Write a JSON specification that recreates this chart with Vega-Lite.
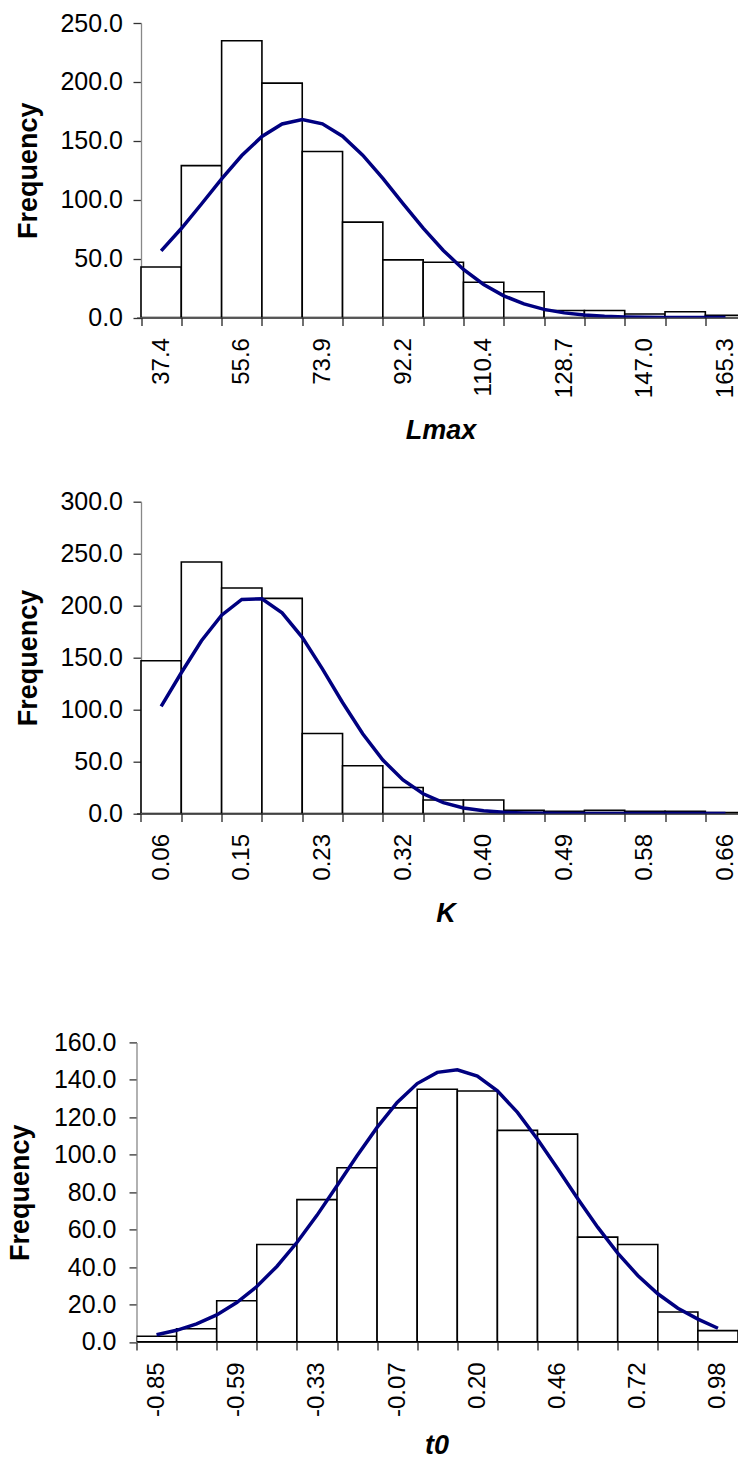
{
  "$schema": "https://vega.github.io/schema/vega-lite/v6.json",
  "usermeta": {"embedOptions": {"actions": false}},
  "padding": {"left": 6.5, "top": 11, "right": 0, "bottom": 0},
  "spacing": 45.7,
  "config": {
    "view": {"stroke": null},
    "font": "Liberation Sans",
    "axis": {
      "grid": false,
      "labelFont": "Liberation Sans",
      "labelFontSize": 24,
      "labelColor": "#000000",
      "titleFont": "Liberation Sans",
      "titleFontSize": 27,
      "titleFontWeight": "bold",
      "titleColor": "#000000",
      "labelFlush": false,
      "labelOverlap": false,
      "domainWidth": 1.3,
      "tickWidth": 1.3
    },
    "axisX": {"domainColor": "#222222", "tickColor": "#222222", "labelAngle": -90, "tickSize": 8, "labelPadding": 12, "titleBaseline": "alphabetic", "titleFontStyle": "italic"},
    "axisY": {"domainColor": "#888888", "tickColor": "#333333", "titleBaseline": "alphabetic", "format": ".1f", "labelFontSize": 25}
  },
  "datasets": {
    "lmax_bins": [
      {"x": 32.833, "x2": 41.967, "y": 43},
      {"x": 41.967, "x2": 51.101, "y": 129},
      {"x": 51.101, "x2": 60.235, "y": 235},
      {"x": 60.235, "x2": 69.369, "y": 199},
      {"x": 69.369, "x2": 78.503, "y": 141},
      {"x": 78.503, "x2": 87.637, "y": 81},
      {"x": 87.637, "x2": 96.771, "y": 49},
      {"x": 96.771, "x2": 105.905, "y": 47},
      {"x": 105.905, "x2": 115.039, "y": 30},
      {"x": 115.039, "x2": 124.173, "y": 22},
      {"x": 124.173, "x2": 133.307, "y": 6},
      {"x": 133.307, "x2": 142.441, "y": 6},
      {"x": 142.441, "x2": 151.575, "y": 3},
      {"x": 151.575, "x2": 160.709, "y": 5},
      {"x": 160.709, "x2": 169.843, "y": 2}
    ],
    "lmax_curve": [
      {"x": 37.4, "y": 56.6}, {"x": 41.967, "y": 75.6}, {"x": 46.534, "y": 96.4}, {"x": 51.101, "y": 117.7},
      {"x": 55.668, "y": 137.5}, {"x": 60.235, "y": 153.7}, {"x": 64.802, "y": 164.3}, {"x": 69.369, "y": 168.0},
      {"x": 73.936, "y": 164.4}, {"x": 78.503, "y": 153.9}, {"x": 83.07, "y": 137.8}, {"x": 87.637, "y": 118.1},
      {"x": 92.204, "y": 96.8}, {"x": 96.771, "y": 75.9}, {"x": 101.338, "y": 57.0}, {"x": 105.905, "y": 40.9},
      {"x": 110.472, "y": 28.1}, {"x": 115.039, "y": 18.5}, {"x": 119.606, "y": 11.6}, {"x": 124.173, "y": 7.0},
      {"x": 128.74, "y": 4.0}, {"x": 133.307, "y": 2.2}, {"x": 137.874, "y": 1.2}, {"x": 142.441, "y": 0.6},
      {"x": 147.008, "y": 0.3}, {"x": 151.575, "y": 0.1}, {"x": 156.142, "y": 0.05}, {"x": 160.709, "y": 0.02},
      {"x": 165.276, "y": 0.01}
    ],
    "k_bins": [
      {"x": 0.0385, "x2": 0.0815, "y": 147},
      {"x": 0.0815, "x2": 0.1245, "y": 242},
      {"x": 0.1245, "x2": 0.1675, "y": 217},
      {"x": 0.1675, "x2": 0.2105, "y": 207},
      {"x": 0.2105, "x2": 0.2535, "y": 77},
      {"x": 0.2535, "x2": 0.2965, "y": 46},
      {"x": 0.2965, "x2": 0.3395, "y": 25},
      {"x": 0.3395, "x2": 0.3825, "y": 13},
      {"x": 0.3825, "x2": 0.4255, "y": 13},
      {"x": 0.4255, "x2": 0.4685, "y": 3},
      {"x": 0.4685, "x2": 0.5115, "y": 2},
      {"x": 0.5115, "x2": 0.5545, "y": 3},
      {"x": 0.5545, "x2": 0.5975, "y": 2},
      {"x": 0.5975, "x2": 0.6405, "y": 2},
      {"x": 0.6405, "x2": 0.6835, "y": 1}
    ],
    "k_curve": [
      {"x": 0.06, "y": 103.1}, {"x": 0.0815, "y": 135.4}, {"x": 0.103, "y": 166.2}, {"x": 0.1245, "y": 190.8},
      {"x": 0.146, "y": 206.0}, {"x": 0.1675, "y": 206.5}, {"x": 0.189, "y": 193.0}, {"x": 0.2105, "y": 169.5},
      {"x": 0.232, "y": 139.1}, {"x": 0.2535, "y": 106.8}, {"x": 0.275, "y": 76.7}, {"x": 0.2965, "y": 51.4},
      {"x": 0.318, "y": 32.3}, {"x": 0.3395, "y": 19.0}, {"x": 0.361, "y": 10.4}, {"x": 0.3825, "y": 5.3},
      {"x": 0.404, "y": 2.6}, {"x": 0.4255, "y": 1.1}, {"x": 0.447, "y": 0.5}, {"x": 0.4685, "y": 0.2},
      {"x": 0.49, "y": 0.1}, {"x": 0.5115, "y": 0.0}, {"x": 0.533, "y": 0.0}, {"x": 0.5545, "y": 0.0},
      {"x": 0.576, "y": 0.0}, {"x": 0.5975, "y": 0.0}, {"x": 0.619, "y": 0.0}, {"x": 0.6405, "y": 0.0},
      {"x": 0.662, "y": 0.0}
    ],
    "t0_bins": [
      {"x": -0.91536, "x2": -0.78465, "y": 3},
      {"x": -0.78465, "x2": -0.65394, "y": 7},
      {"x": -0.65394, "x2": -0.52323, "y": 22},
      {"x": -0.52323, "x2": -0.39252, "y": 52},
      {"x": -0.39252, "x2": -0.26181, "y": 76},
      {"x": -0.26181, "x2": -0.1311, "y": 93},
      {"x": -0.1311, "x2": -0.00039, "y": 125},
      {"x": -0.00039, "x2": 0.13032, "y": 135},
      {"x": 0.13032, "x2": 0.26103, "y": 134},
      {"x": 0.26103, "x2": 0.39174, "y": 113},
      {"x": 0.39174, "x2": 0.52245, "y": 111},
      {"x": 0.52245, "x2": 0.65316, "y": 56},
      {"x": 0.65316, "x2": 0.78387, "y": 52},
      {"x": 0.78387, "x2": 0.91458, "y": 16},
      {"x": 0.91458, "x2": 1.04529, "y": 6}
    ],
    "t0_curve": [
      {"x": -0.85, "y": 3.8}, {"x": -0.78465, "y": 6.2}, {"x": -0.71929, "y": 9.6}, {"x": -0.65394, "y": 14.4},
      {"x": -0.58858, "y": 21.0}, {"x": -0.52323, "y": 29.6}, {"x": -0.45787, "y": 40.3}, {"x": -0.39252, "y": 53.1},
      {"x": -0.32716, "y": 67.6}, {"x": -0.26181, "y": 83.4}, {"x": -0.19645, "y": 99.4}, {"x": -0.1311, "y": 114.6},
      {"x": -0.06574, "y": 127.9}, {"x": -0.00039, "y": 138.0}, {"x": 0.06497, "y": 144.0}, {"x": 0.13032, "y": 145.4},
      {"x": 0.19568, "y": 142.0}, {"x": 0.26103, "y": 134.1}, {"x": 0.32639, "y": 122.6}, {"x": 0.39174, "y": 108.3},
      {"x": 0.4571, "y": 92.6}, {"x": 0.52245, "y": 76.6}, {"x": 0.58781, "y": 61.3}, {"x": 0.65316, "y": 47.4},
      {"x": 0.71852, "y": 35.5}, {"x": 0.78387, "y": 25.7}, {"x": 0.84923, "y": 18.0}, {"x": 0.91458, "y": 12.2},
      {"x": 0.97994, "y": 7.3}
    ]
  },
  "vconcat": [
    {
      "width": 601.5,
      "height": 294.6,
      "encoding": {
        "x": {
          "field": "x", "type": "quantitative",
          "scale": {"domain": [31.813, 168.11], "nice": false, "zero": false},
          "axis": {
            "title": "Lmax",
            "values": [37.4, 46.534, 55.668, 64.802, 73.936, 83.07, 92.204, 101.338, 110.472, 119.606, 128.74, 137.874, 147.008, 156.142, 165.276],
            "labelExpr": "['37.4','','55.6','','73.9','','92.2','','110.4','','128.7','','147.0','','165.3'][round(datum.index*14)]",
            "tickOffset": -20.155, "labelOffset": 20.155,
            "titleX": 304, "titleY": 121
          }
        },
        "y": {
          "field": "y", "type": "quantitative",
          "scale": {"domain": [0, 250], "nice": false},
          "axis": {"title": "Frequency", "values": [0, 50, 100, 150, 200, 250], "offset": -4.5, "tickSize": 8, "labelPadding": 10.5, "titleX": -105}
        }
      },
      "layer": [
        {"data": {"name": "lmax_bins"}, "mark": {"type": "bar", "fill": "#ffffff", "stroke": "#000000", "strokeWidth": 1.6, "clip": true}, "encoding": {"x2": {"field": "x2"}, "y2": {"datum": 0}}},
        {"data": {"name": "lmax_curve"}, "mark": {"type": "line", "color": "#000080", "strokeWidth": 3.5, "clip": true}, "encoding": {}}
      ]
    },
    {
      "width": 601.5,
      "height": 311.8,
      "encoding": {
        "x": {
          "field": "x", "type": "quantitative",
          "scale": {"domain": [0.0337, 0.67534], "nice": false, "zero": false},
          "axis": {
            "title": "K",
            "values": [0.06, 0.103, 0.146, 0.189, 0.232, 0.275, 0.318, 0.361, 0.404, 0.447, 0.49, 0.533, 0.576, 0.619, 0.662],
            "labelExpr": "['0.06','','0.15','','0.23','','0.32','','0.40','','0.49','','0.58','','0.66'][round(datum.index*14)]",
            "tickOffset": -20.155, "labelOffset": 20.155,
            "titleX": 309, "titleY": 107.7
          }
        },
        "y": {
          "field": "y", "type": "quantitative",
          "scale": {"domain": [0, 300], "nice": false},
          "axis": {"title": "Frequency", "values": [0, 50, 100, 150, 200, 250, 300], "offset": -4.5, "tickSize": 8, "labelPadding": 10.5, "titleX": -105}
        }
      },
      "layer": [
        {"data": {"name": "k_bins"}, "mark": {"type": "bar", "fill": "#ffffff", "stroke": "#000000", "strokeWidth": 1.6, "clip": true}, "encoding": {"x2": {"field": "x2"}, "y2": {"datum": 0}}},
        {"data": {"name": "k_curve"}, "mark": {"type": "line", "color": "#000080", "strokeWidth": 3.5, "clip": true}, "encoding": {}}
      ]
    },
    {
      "width": 601.5,
      "height": 299.5,
      "title": {"text": " ", "fontSize": 10, "offset": 47.3, "color": "#ffffff"},
      "encoding": {
        "x": {
          "field": "x", "type": "quantitative",
          "scale": {"domain": [-0.91536, 1.04529], "nice": false, "zero": false},
          "axis": {
            "title": "t0",
            "values": [-0.85, -0.71929, -0.58858, -0.45787, -0.32716, -0.19645, -0.06574, 0.06497, 0.19568, 0.32639, 0.4571, 0.58781, 0.71852, 0.84923, 0.97994],
            "labelExpr": "['-0.85','','-0.59','','-0.33','','-0.07','','0.20','','0.46','','0.72','','0.98'][round(datum.index*14)]",
            "tickOffset": -20.05, "labelOffset": 20.05,
            "titleX": 300, "titleY": 112
          }
        },
        "y": {
          "field": "y", "type": "quantitative",
          "scale": {"domain": [0, 160], "nice": false},
          "axis": {"title": "Frequency", "values": [0, 20, 40, 60, 80, 100, 120, 140, 160], "tickSize": 7.5, "labelPadding": 13, "titleX": -107.7}
        }
      },
      "layer": [
        {"data": {"name": "t0_bins"}, "mark": {"type": "bar", "fill": "#ffffff", "stroke": "#000000", "strokeWidth": 1.6, "clip": true}, "encoding": {"x2": {"field": "x2"}, "y2": {"datum": 0}}},
        {"data": {"name": "t0_curve"}, "mark": {"type": "line", "color": "#000080", "strokeWidth": 3.5, "clip": true}, "encoding": {}}
      ]
    }
  ]
}
